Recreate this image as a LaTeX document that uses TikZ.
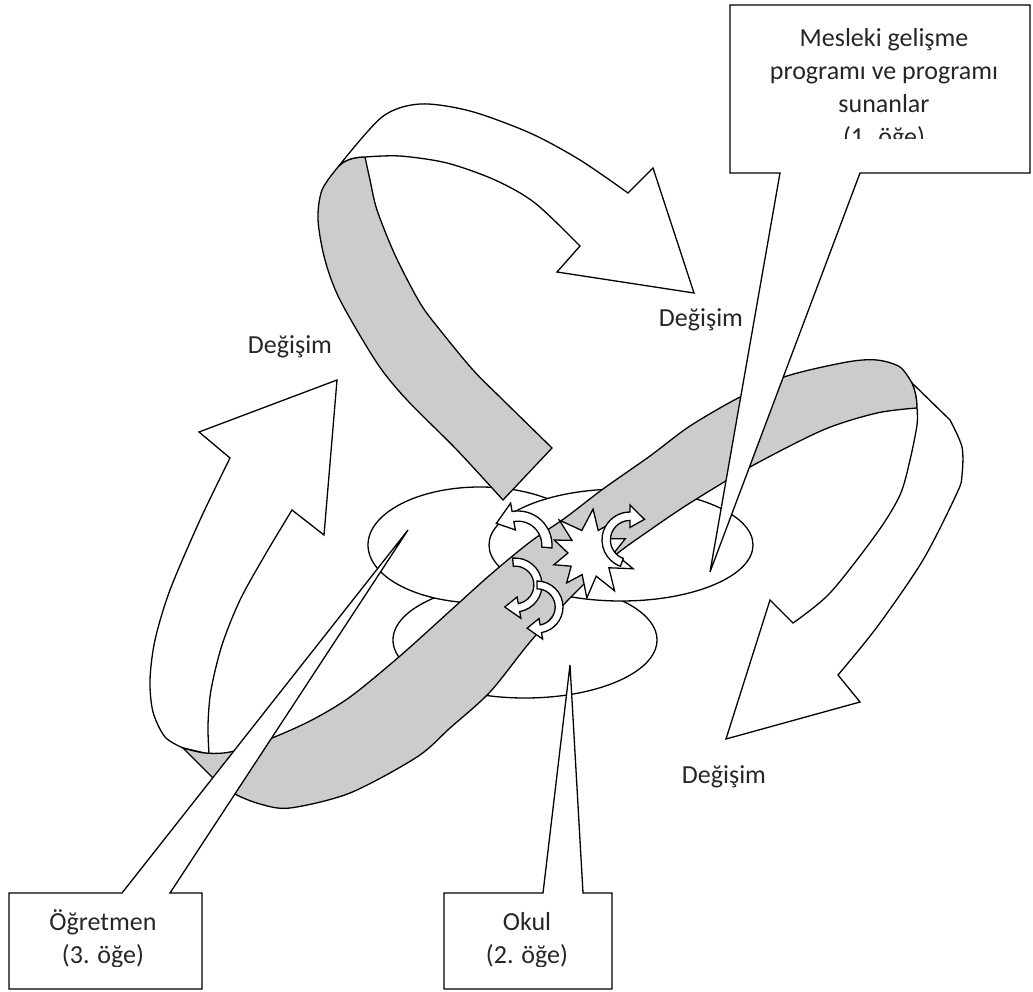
\documentclass[tikz,border=0pt]{standalone}
\usepackage{fontspec}
\setmainfont{Carlito}
\usetikzlibrary{positioning}
\definecolor{bandgrey}{RGB}{204,204,204}
\tikzset{
    ring/.style={x=1pt,y=-1pt,line width=1.3pt,line join=miter},
    ribbon/.style={draw=black, fill=white},
    band/.style={draw=black, fill=bandgrey},
    disc/.style={draw=black, fill=white},
    callout/.style={draw=black, fill=white},
    lbl/.style={font=\fontsize{26}{33}\selectfont, text=black!85, inner sep=0pt,
                anchor=base, align=center},
    }
\newcommand{\curlyarrow}[5]{%
  \begin{scope}[shift={(#1,#2)}, x=#5pt, y=#5pt]
    \pgfmathsetmacro{\tipang}{#4+35*sign(#4-#3)}
    \filldraw[ribbon] (#3:1) arc[start angle=#3, end angle=#4, radius=1]
      -- (#4:1.25) -- (\tipang:0.9) -- (#4:0.45) -- (#4:0.7)
      arc[start angle=#4, end angle=#3, radius=0.7] -- cycle;
  \end{scope}}

\begin{document}
\begin{tikzpicture}[ring]
\useasboundingbox (0,0) rectangle (1033,992);

\filldraw[disc] (525,640) ellipse [x radius=132pt, y radius=58pt];
\filldraw[disc] (480,545) ellipse [x radius=112pt, y radius=58pt];
\filldraw[disc] (621,545) ellipse [x radius=132pt, y radius=56pt];

\filldraw[band] plot[smooth] coordinates {(338,167) (322,190) (318,220) (325,260) (340,300) (377,363) (407,400) (456,449) (503,500)}
    -- (552,448)
    -- plot[smooth] coordinates {(552,448) (503,400) (473,370) (440,330) (420,303) (395,255) (377,210) (370,180) (365,157)}
    .. controls (352,157) and (343,161) .. (338,167) -- cycle;
\filldraw[ribbon] plot[smooth] coordinates {(338,167) (382,117) (420,104) (470,111) (530,133) (580,160) (628,193)}
    -- (653,168) -- (694,293) -- (557,272) -- (580,246)
    -- plot[smooth] coordinates {(580,246) (535,203) (495,180) (447,163) (400,156) (365,157)}
    .. controls (352,157) and (343,161) .. (338,167) -- cycle;

\filldraw[ribbon] plot[smooth] coordinates {(183,748) (165,737) (153,712) (150,680) (155,640) (170,590) (200,520) (230,458)}
    -- (199,432) -- (337,380) -- (324,535) -- (292,510)
    -- plot[smooth] coordinates {(292,510) (265,555) (240,600) (222,645) (211,690) (208,725) (209,754)}
    -- cycle;

\filldraw[band] plot[smooth] coordinates {(183,748) (205,753) (230,752) (267,740) (310,721) (350,697) (400,656) (450,611) (490,575) (530,542) (565,518) (603,489) (650,456) (690,426) (740,397) (787,376) (847,362) (877,360) (900,367) (912,383)}
    .. controls (916,390) and (917,400) .. (917,408)
    -- plot[smooth] coordinates {(917,408) (877,413) (823,430) (750,467) (690,503) (650,530) (613,557) (570,598) (530,642) (490,692) (450,728) (417,757) (350,793) (290,808) (260,804) (233,793) (212,777)}
    -- cycle;

\filldraw[ribbon] (912,383) -- plot[smooth] coordinates {(950,420) (962,447) (962,475) (957,493) (923,560) (877,627) (838,675)}
    -- (860,702) -- (726,739) -- (770,600) -- (793,623)
    -- plot[smooth] coordinates {(793,623) (830,593) (877,533) (900,495) (910,460) (917,425) (917,408)}
    .. controls (917,398) and (915,390) .. (912,383) -- cycle;

\begin{scope}[shift={(590,553)}, x=1pt, y=1pt]
  \filldraw[ribbon] (86:44) -- (70:24) -- (55:36) -- (40:22) -- (22:38) -- (0:24) -- (-20:46)
    -- (-38:24) -- (-57:45) -- (-75:24) -- (-94:45) -- (-110:23) -- (-128:38) -- (-145:23)
    -- (-162:38) -- (180:22) -- (160:38) -- (145:22) -- (133:45) -- (110:24) -- cycle;
\end{scope}

\curlyarrow{518}{545}{-5}{100}{34}
\curlyarrow{630}{540}{250}{90}{28}
\curlyarrow{515}{585}{95}{-80}{27}
\curlyarrow{537}{607}{90}{-80}{26}

\filldraw[callout] (730,5) -- (1030,5) -- (1030,173) -- (860,173) -- (710,572) -- (780,173) -- (730,173) -- cycle;
\filldraw[callout] (9,893) -- (122,893) -- (408,530) -- (170,893) -- (202,893) -- (202,989) -- (9,989) -- cycle;
\filldraw[callout] (444,893) -- (543,893) -- (570,665) -- (583,893) -- (612,893) -- (612,989) -- (444,989) -- cycle;

\begin{scope}
  \clip (730,5) rectangle (1030,139);
  \node[lbl] (mesleki) at (884,146) {Mesleki gelişme\\programı ve programı\\sunanlar\\(1. öğe)};
\end{scope}
\begin{scope}
  \clip (9,893) rectangle (202,966);
  \node[lbl] (ogretmen) at (103,963) {Öğretmen\\(3. öğe)};
\end{scope}
\begin{scope}
  \clip (444,893) rectangle (612,966);
  \node[lbl] (okul) at (527,963) {Okul\\(2. öğe)};
\end{scope}

\node[lbl] (degisimA) at (290,353) {Değişim};
\node[lbl] (degisimB) at (701,326) {Değişim};
\node[lbl] (degisimC) at (724,783) {Değişim};
\end{tikzpicture}
\end{document}
